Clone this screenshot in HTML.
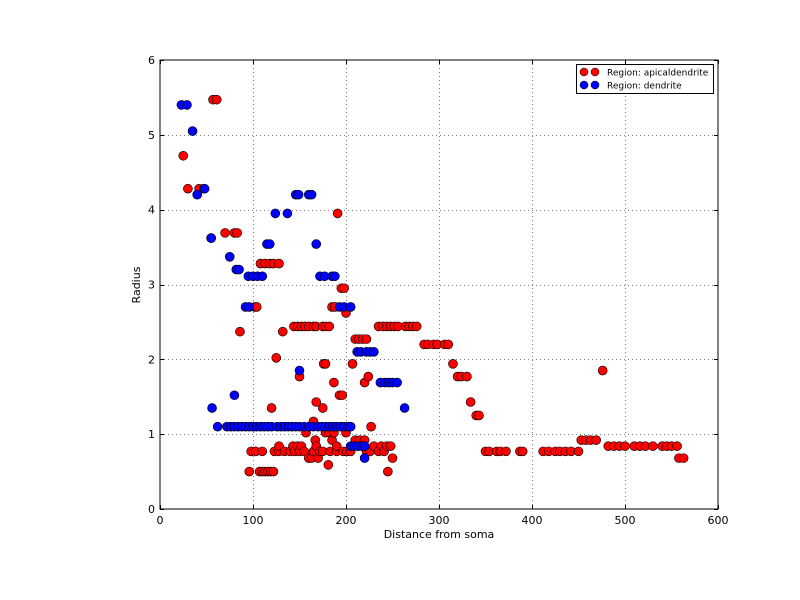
<!DOCTYPE html>
<html><head><meta charset="utf-8"><style>
body{margin:0;background:#fff;}
svg{display:block;font-family:"DejaVu Sans","Liberation Sans",sans-serif;}
</style></head><body>
<svg id="chart" width="800" height="600" viewBox="0 0 800 600" xmlns="http://www.w3.org/2000/svg">
<rect width="800" height="600" fill="#fff"/>
<g id="grid"></g>
<g id="pts"></g>
<rect x="160" y="60" width="558" height="449" fill="none" stroke="#000" stroke-width="1"/>
<g id="ticks"></g>
<text x="439" y="538" text-anchor="middle" font-size="11">Distance from soma</text>
<text x="140" y="285" text-anchor="middle" font-size="11" transform="rotate(-90 140 285)">Radius</text>
<g>
<rect x="576.5" y="64.5" width="137" height="29" fill="#fff" stroke="#000"/>
<g>
<circle cx="584" cy="72" r="4" fill="#f00" stroke="#000" stroke-width="0.5"/>
<circle cx="595" cy="72" r="4" fill="#f00" stroke="#000" stroke-width="0.5"/>
<text x="607" y="75.5" font-size="9">Region: apicaldendrite</text></g>
<g>
<circle cx="584" cy="85" r="4" fill="#00f" stroke="#000" stroke-width="0.5"/>
<circle cx="595" cy="85" r="4" fill="#00f" stroke="#000" stroke-width="0.5"/>
<text x="607" y="88.5" font-size="9">Region: dendrite</text></g>
</g>
</svg>
<script>
const xTicks=[0,100,200,300,400,500,600];
const yTicks=[0,1,2,3,4,5,6];
const redX=[25,30,42,47,57,61,55,70,80,83,86,96,98,103,110,102,104,107,110,113,116,119,122,108,113,118,122,128,120,123,128,125,128,132,134,140,143,145,148,150,152,155,144,148,152,156,160,165,168,150,157,160,163,165,167,168,170,172,175,176,178,175,165,168,175,178,182,178,182,183,185,187,190,181,185,188,187,190,191,195,198,193,196,197,200,200,201,205,207,208,210,213,215,218,220,222,210,214,218,222,220,224,227,226,230,235,238,241,244,248,235,240,244,248,252,256,245,250,264,268,272,276,284,288,294,298,306,310,315,320,324,330,334,340,343,350,354,362,366,372,387,390,412,418,425,430,436,442,450,476,453,458,463,469,482,488,494,500,510,516,522,530,540,545,550,556,558,563];
const redY=[4.72,4.28,4.28,4.28,5.47,5.47,3.62,3.69,3.69,3.69,2.37,0.5,0.77,0.77,0.77,2.7,2.7,0.5,0.5,0.5,0.5,0.5,0.5,3.28,3.28,3.28,3.28,3.28,1.35,0.77,0.77,2.02,0.84,2.37,0.77,0.77,0.84,0.77,0.84,0.77,0.84,0.77,2.44,2.44,2.44,2.44,2.44,2.44,2.44,1.77,1.02,0.68,0.68,0.77,0.92,0.84,0.68,0.77,1.35,1.94,1.94,0.77,1.17,1.43,2.44,2.44,2.44,1.02,1.02,0.77,0.92,1.02,0.77,0.59,2.7,2.7,1.69,0.84,3.95,2.95,2.95,1.52,1.52,0.77,2.62,1.02,0.77,0.77,1.94,0.84,0.92,0.84,0.92,0.84,0.92,0.77,2.27,2.27,2.27,2.27,1.69,1.77,1.1,0.77,0.84,0.77,0.84,0.77,0.84,0.84,2.44,2.44,2.44,2.44,2.44,2.44,0.5,0.68,2.44,2.44,2.44,2.44,2.2,2.2,2.2,2.2,2.2,2.2,1.94,1.77,1.77,1.77,1.43,1.25,1.25,0.77,0.77,0.77,0.77,0.77,0.77,0.77,0.77,0.77,0.77,0.77,0.77,0.77,0.77,1.85,0.92,0.92,0.92,0.92,0.84,0.84,0.84,0.84,0.84,0.84,0.84,0.84,0.84,0.84,0.84,0.84,0.68,0.68];
const blueX=[23,29,35,40,48,55,56,62,75,80,82,85,92,96,95,100,105,110,115,118,124,137,146,149,160,163,168,172,177,185,188,150,72,76,80,84,88,92,96,100,104,108,112,116,120,126,130,134,138,142,146,150,155,160,165,170,174,178,182,186,190,194,198,202,205,205,209,213,217,220,220,212,216,222,226,230,193,198,205,237,242,246,250,255,263];
const blueY=[5.4,5.4,5.05,4.2,4.28,3.62,1.35,1.1,3.37,1.52,3.2,3.2,2.7,2.7,3.11,3.11,3.11,3.11,3.54,3.54,3.95,3.95,4.2,4.2,4.2,4.2,3.54,3.11,3.11,3.11,3.11,1.85,1.1,1.1,1.1,1.1,1.1,1.1,1.1,1.1,1.1,1.1,1.1,1.1,1.1,1.1,1.1,1.1,1.1,1.1,1.1,1.1,1.1,1.1,1.1,1.1,1.1,1.1,1.1,1.1,1.1,1.1,1.1,1.1,1.1,0.84,0.84,0.84,0.84,0.84,0.68,2.1,2.1,2.1,2.1,2.1,2.7,2.7,2.7,1.69,1.69,1.69,1.69,1.69,1.35];
const NS='http://www.w3.org/2000/svg';
const X0=160,X1=718,Y0=509,Y1=60;
function sx(v){return X0+(v/600)*(X1-X0);}
function sy(v){return Y0-(v/6)*(Y0-Y1);}
function mk(tag,attrs,parent){const e=document.createElementNS(NS,tag);for(const k in attrs)e.setAttribute(k,attrs[k]);parent.appendChild(e);return e;}
const grid=document.getElementById('grid'),ticks=document.getElementById('ticks'),pts=document.getElementById('pts');
xTicks.forEach(t=>{const x=Math.round(sx(t))+0.5;
 if(t>0&&t<600){const g=mk('line',{x1:x,x2:x,y1:Y1,y2:Y0,stroke:'#000','stroke-width':0.5,'stroke-dasharray':'1,3'},grid);
 
 }
 mk('line',{x1:x,x2:x,y1:Y0,y2:Y0-4,stroke:'#000'},ticks);mk('line',{x1:x,x2:x,y1:Y1,y2:Y1+4,stroke:'#000'},ticks);
 const l=mk('text',{x:sx(t),y:Y0+15,'text-anchor':'middle','font-size':11},ticks);l.textContent=t;
 
 });
yTicks.forEach(t=>{const y=Math.round(sy(t))+0.5;
 if(t>0&&t<6){const g=mk('line',{x1:X0,x2:X1,y1:y,y2:y,stroke:'#000','stroke-width':0.5,'stroke-dasharray':'1,3'},grid);
 
 }
 mk('line',{x1:X0,x2:X0+4,y1:y,y2:y,stroke:'#000'},ticks);mk('line',{x1:X1,x2:X1-4,y1:y,y2:y,stroke:'#000'},ticks);
 const l=mk('text',{x:X0-5,y:sy(t)+4,'text-anchor':'end','font-size':11},ticks);l.textContent=t;
 
 });
function draw(xs,ys,col,name){for(let i=0;i<xs.length;i++){const c=mk('circle',{cx:sx(xs[i]),cy:sy(ys[i]),r:4.5,fill:col,stroke:'#000','stroke-width':0.6},pts);
 
 }}
draw(redX,redY,'#f00','apicaldendrite-point');
draw(blueX,blueY,'#00f','dendrite-point');
</script>
</body></html>
